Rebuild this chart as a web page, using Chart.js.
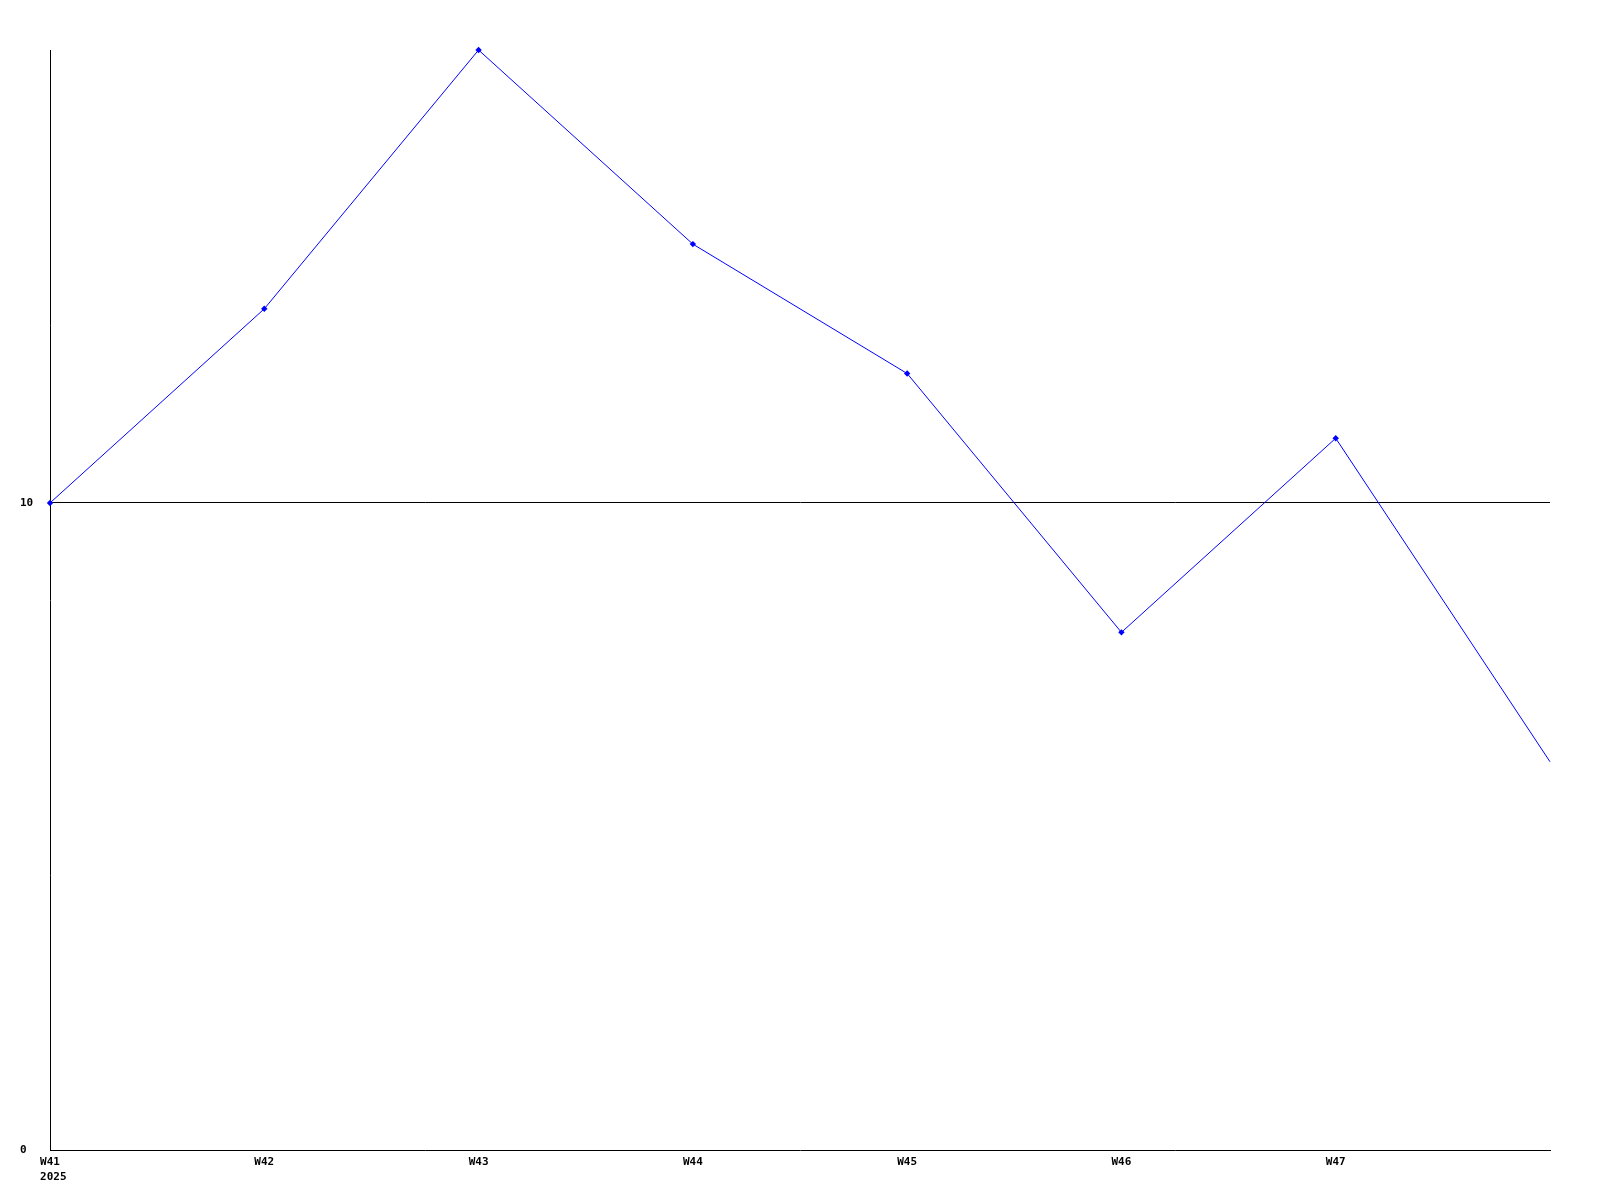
<!DOCTYPE html>
<html>
<head>
<meta charset="utf-8">
<script src="https://cdn.jsdelivr.net/npm/chart.js@4/dist/chart.umd.min.js"></script>
<style>
  body { margin: 0; background: #fff; }
  canvas { display: block; }
</style>
</head>
<body>
<canvas id="weekChart" width="1600" height="1200"></canvas>
<script>
const weeks = [['W41', ' 2025'], 'W42', 'W43', 'W44', 'W45', 'W46', 'W47', ''];
const counts = [10, 13, 17, 14, 12, 8, 11, 6];
const yTicks = [0, 10];

const font = { family: 'DejaVu Sans Mono', size: 11, weight: 'bold', lineHeight: 15 / 11 };

new Chart(document.getElementById('weekChart').getContext('2d'), {
  type: 'line',
  data: {
    labels: weeks,
    datasets: [{
      data: counts,
      borderColor: 'rgb(0,0,255)',
      backgroundColor: 'rgb(0,0,255)',
      borderWidth: 1,
      pointStyle: 'rectRot',
      pointRadius: ctx => ctx.dataIndex === counts.length - 1 ? 0 : 3.2,
      pointBorderWidth: 0,
      tension: 0,
      fill: false,
      clip: false
    }]
  },
  options: {
    responsive: false,
    animation: false,
    layout: { padding: { left: 20, right: 50, top: 50, bottom: 0 } },
    plugins: { legend: { display: false }, tooltip: { enabled: false } },
    scales: {
      x: {
        offset: false,
        grid: { display: false, drawTicks: false },
        border: { color: '#000', width: 1 },
        ticks: { color: '#000', font: font, padding: 5, maxRotation: 0, autoSkip: false },
        afterFit: s => { s.height = 50; }
      },
      y: {
        min: 0,
        max: 17,
        afterBuildTicks: s => { s.ticks = yTicks.map(v => ({ value: v })); },
        grid: {
          drawTicks: false,
          color: ctx => ctx.tick && ctx.tick.value === 10 ? '#000' : 'rgba(0,0,0,0)',
          lineWidth: 1
        },
        border: { color: '#000', width: 1 },
        ticks: { color: '#000', font: font, crossAlign: 'far', padding: 17 },
        afterFit: s => { s.width = 30; }
      }
    }
  }
});
</script>
</body>
</html>
